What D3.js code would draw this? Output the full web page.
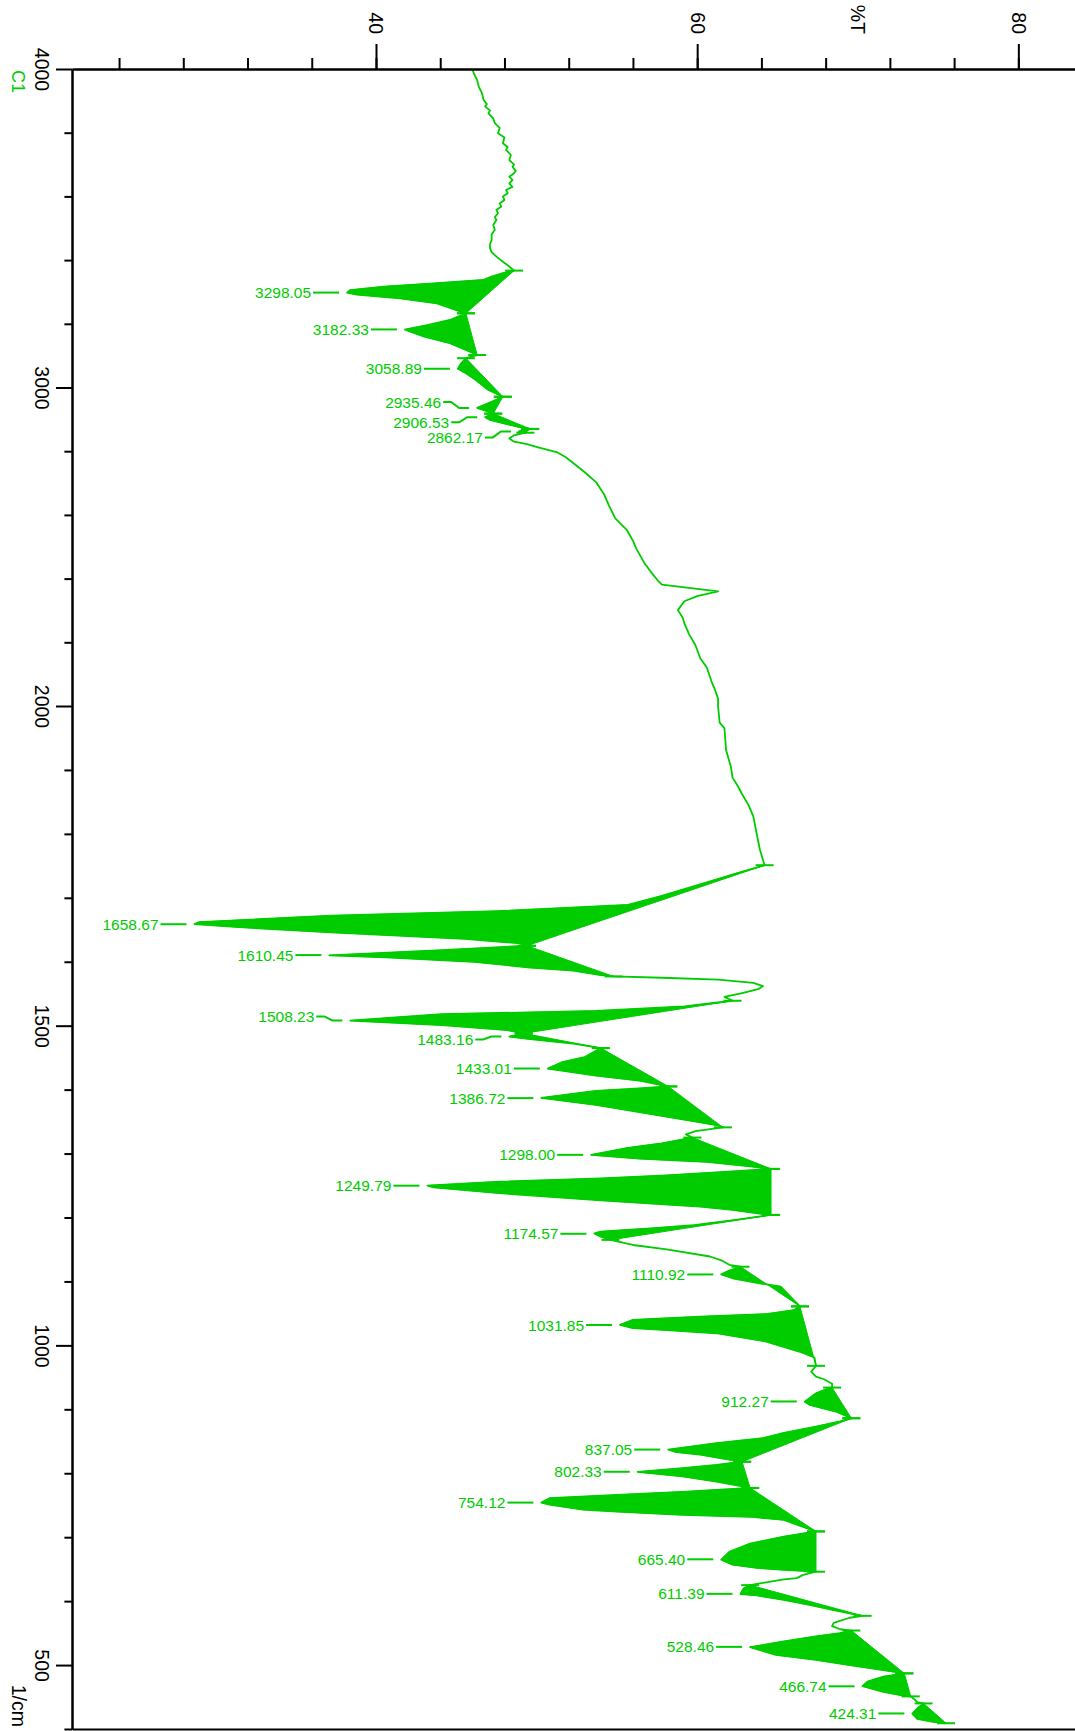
<!DOCTYPE html>
<html>
<head>
<meta charset="utf-8">
<script src="https://cdn.jsdelivr.net/npm/d3@7"></script>
<style>
body { margin: 0; background: #fff; }
svg { display: block; font-family: "Liberation Sans", Arial, sans-serif; }
</style>
</head>
<body>
<script>
// spectrum (1/cm, %T)
var wavenumber = [
  4000, 3985, 3965, 3945, 3924, 3903, 3890, 3882, 3870, 3861, 3845, 3830, 3815, 3798, 3785, 3767,
  3755, 3746, 3730, 3714, 3700, 3693, 3680, 3673, 3662, 3652, 3640, 3630, 3620, 3610, 3600, 3589,
  3578, 3568, 3557, 3547, 3535, 3526, 3510, 3495, 3480, 3463, 3450, 3437, 3425, 3411, 3395, 3380,
  3367, 3359, 3348, 3338, 3327, 3317, 3306, 3298, 3292, 3280, 3264, 3243, 3233, 3212, 3196, 3182,
  3176, 3160, 3139, 3118, 3102, 3092, 3076, 3059, 3045, 3024, 2992, 2971, 2955, 2936, 2926, 2918,
  2907, 2898, 2888, 2877, 2870, 2862, 2858, 2850, 2840, 2830, 2822, 2812, 2796, 2782, 2762, 2734,
  2703, 2665, 2630, 2589, 2554, 2519, 2495, 2450, 2422, 2391, 2381, 2360, 2345, 2329, 2301, 2277,
  2260, 2225, 2190, 2149, 2121, 2076, 2052, 2024, 2000, 1974, 1965, 1931, 1905, 1888, 1876, 1862,
  1845, 1827, 1801, 1776, 1751, 1738, 1724, 1703, 1689, 1679, 1672, 1662, 1659, 1654, 1646, 1636,
  1629, 1625, 1618, 1610, 1607, 1600, 1591, 1586, 1579, 1577, 1575, 1572, 1567, 1562, 1557, 1551,
  1545, 1539, 1530, 1523, 1518, 1508, 1501, 1493, 1488, 1483, 1479, 1472, 1465, 1451, 1443, 1433,
  1422, 1414, 1407, 1405, 1402, 1398, 1387, 1376, 1365, 1353, 1344, 1341, 1335, 1330, 1325, 1316,
  1309, 1298, 1292, 1287, 1280, 1276, 1272, 1266, 1261, 1256, 1250, 1247, 1238, 1227, 1217, 1212,
  1206, 1204, 1196, 1188, 1183, 1178, 1175, 1170, 1165, 1157, 1150, 1139, 1133, 1126, 1123, 1117,
  1111, 1105, 1097, 1092, 1071, 1061, 1055, 1049, 1045, 1040, 1032, 1027, 1024, 1019, 1006, 990,
  981, 968, 959, 951, 947, 940, 934, 930, 925, 912, 907, 896, 886, 881, 873, 863,
  855, 847, 837, 833, 829, 822, 818, 813, 808, 802, 795, 787, 779, 777, 771, 766,
  761, 754, 751, 743, 740, 735, 732, 727, 716, 709, 701, 690, 677, 665, 657, 652,
  649, 646, 641, 636, 634, 629, 625, 620, 616, 611, 609, 602, 594, 586, 581, 577,
  574, 566, 561, 556, 554, 550, 545, 537, 528, 516, 508, 500, 492, 487, 482, 474,
  467, 458, 452, 451, 447, 442, 440, 432, 424, 416, 411, 409
];
var transmittance = [
  46.0, 46.1, 46.3, 46.4, 46.6, 46.7, 46.9, 46.8, 47.1, 47.0, 47.3, 47.4, 47.7, 47.6, 48.0, 47.9,
  48.2, 48.1, 48.4, 48.3, 48.6, 48.5, 48.7, 48.6, 48.3, 48.5, 48.3, 48.5, 48.1, 48.2, 47.9, 48.0,
  47.7, 47.8, 47.5, 47.6, 47.4, 47.5, 47.3, 47.4, 47.2, 47.2, 47.1, 47.1, 47.2, 47.5, 47.9, 48.3,
  48.6, 47.9, 47.2, 46.7, 43.6, 40.5, 38.4, 38.2, 38.8, 41.5, 43.8, 45.0, 45.6, 44.6, 43.2, 41.8,
  42.1, 43.0, 44.6, 45.6, 46.3, 45.6, 45.3, 45.1, 45.6, 46.2, 47.0, 47.9, 47.2, 46.3, 46.9, 47.3,
  46.8, 47.1, 47.9, 48.8, 49.6, 48.9, 49.3, 48.6, 48.3, 48.6, 49.4, 50.1, 51.3, 51.8, 52.3, 53.0,
  53.7, 54.2, 54.5, 54.9, 55.6, 56.0, 56.2, 56.7, 57.1, 57.6, 57.8, 61.3, 60.0, 59.2, 58.8, 59.1,
  59.2, 59.5, 59.9, 60.2, 60.6, 60.9, 61.1, 61.3, 61.3, 61.4, 61.7, 61.8, 62.1, 62.2, 62.5, 62.8,
  63.2, 63.5, 63.7, 63.9, 64.2, 62.4, 60.6, 57.8, 55.7, 47.5, 37.2, 29.0, 28.7, 31.5, 37.2, 45.5,
  48.9, 49.4, 44.1, 37.1, 40.6, 46.1, 49.6, 52.3, 54.0, 54.8, 57.8, 61.3, 63.5, 64.1, 63.8, 62.8,
  61.7, 62.2, 59.2, 53.7, 44.1, 38.4, 44.1, 48.2, 49.2, 48.3, 49.6, 52.3, 54.0, 53.0, 51.6, 50.7,
  53.7, 56.4, 57.8, 58.2, 56.4, 53.7, 50.3, 53.7, 56.4, 59.2, 61.3, 61.6, 59.9, 59.3, 59.7, 57.8,
  55.7, 53.4, 56.4, 60.6, 63.3, 64.6, 62.2, 58.1, 54.0, 47.7, 43.2, 43.6, 47.7, 54.0, 60.2, 62.2,
  63.9, 64.6, 62.3, 59.8, 57.1, 54.0, 53.6, 54.0, 54.6, 56.0, 58.1, 60.8, 61.5, 62.0, 62.7, 62.0,
  61.5, 62.2, 63.9, 65.2, 66.0, 66.4, 66.0, 64.3, 60.2, 56.0, 55.2, 56.0, 58.1, 61.2, 64.3, 66.4,
  67.3, 67.4, 67.1, 67.4, 67.9, 68.4, 68.4, 67.9, 67.4, 66.7, 67.0, 68.7, 69.6, 68.9, 67.4, 65.4,
  64.1, 61.2, 58.2, 58.7, 60.2, 61.8, 62.8, 61.2, 59.1, 56.3, 59.1, 61.2, 62.9, 63.3, 59.1, 55.0,
  50.8, 50.3, 50.8, 52.9, 55.0, 59.1, 63.3, 65.4, 66.6, 67.4, 65.4, 63.3, 62.0, 61.5, 62.2, 63.7,
  65.4, 67.4, 66.6, 66.2, 65.4, 64.2, 63.3, 62.9, 62.8, 62.7, 63.7, 65.4, 67.0, 68.5, 69.5, 70.3,
  69.5, 68.5, 68.4, 68.9, 69.6, 68.9, 67.4, 65.4, 63.3, 64.9, 67.4, 69.5, 71.6, 72.9, 71.6, 70.6,
  70.3, 71.6, 72.9, 73.3, 73.5, 73.7, 74.1, 73.7, 73.4, 73.7, 74.7, 75.5
];

// picked peaks and the baseline ends used for their shading
var peakLabels = ["3298.05", "3182.33", "3058.89", "2935.46", "2906.53", "2862.17", "1658.67", "1610.45",
                  "1508.23", "1483.16", "1433.01", "1386.72", "1298.00", "1249.79", "1174.57", "1110.92",
                  "1031.85", "912.27", "837.05", "802.33", "754.12", "665.40", "611.39", "528.46",
                  "466.74", "424.31"];
var peakFrom = [3367, 3233, 3092, 2971, 2918, 2870, 1751, 1625, 1539, 1488, 1465, 1405, 1325, 1276, 1204, 1123,
                1061, 934, 886, 818, 777, 709, 625, 554, 487, 440];
var peakTo   = [3233, 3102, 2971, 2918, 2870, 2858, 1625, 1577, 1488, 1465, 1405, 1341, 1276, 1204, 1165, 1061,
                968, 886, 818, 777, 709, 646, 577, 487, 451, 409];

var wnMajorTicks = [4000, 3000, 2000, 1500, 1000, 500];
var tMajorTicks = [40, 60, 80];

var green = "#00cc00";

var width = 1075, height = 1731;

var svg = d3.select("body")
            .append("svg")
            .attr("width", width)
            .attr("height", height);

// wavenumber runs down the page, 4000-2000 at half scale
var yScale = d3.scaleLinear()
               .domain([4000, 2000, 400])
               .range([69, 706, 1729]);

var xScale = d3.scaleLinear()
               .domain([21.07, 83.59])
               .range([72, 1076]);

var data = wavenumber.map(function(w, i) { return { wn: w, t: transmittance[i] }; });

function tAt(w) {
  return data.find(function(d) { return d.wn === w; }).t;
}

// shaded peaks: between the trace and the straight baseline
peakLabels.forEach(function(lab, i) {
  var w0 = peakFrom[i], w1 = peakTo[i];
  var t0 = tAt(w0), t1 = tAt(w1);
  var seg = data.filter(function(d) { return d.wn <= w0 && d.wn >= w1; });
  var chord = function(w) { return t0 + (t1 - t0) * (w0 - w) / (w0 - w1); };

  var area = d3.area()
               .y(function(d) { return yScale(d.wn); })
               .x0(function(d) { return xScale(d.t); })
               .x1(function(d) { return xScale(chord(d.wn)); });

  svg.append("path")
     .datum(seg)
     .attr("d", area)
     .attr("fill", green)
     .attr("stroke", green)
     .attr("stroke-width", 1);

  // little marks at the baseline ends
  [[w0, t0], [w1, t1]].forEach(function(p) {
    svg.append("line")
       .attr("x1", xScale(p[1]) - 9)
       .attr("x2", xScale(p[1]) + 9)
       .attr("y1", yScale(p[0]))
       .attr("y2", yScale(p[0]))
       .attr("stroke", green)
       .attr("stroke-width", 2);
  });
});

var line = d3.line()
             .x(function(d) { return xScale(d.t); })
             .y(function(d) { return yScale(d.wn); });

svg.append("path")
   .datum(data)
   .attr("d", line)
   .attr("fill", "none")
   .attr("stroke", green)
   .attr("stroke-width", 1.8)
   .attr("stroke-linejoin", "round");

// peak labels with leader lines; a few are nudged so they don't collide
var labelNudge = { "2935.46": -6, "2906.53": 5, "2862.17": 6, "1508.23": -4, "1483.16": 3 };

peakLabels.forEach(function(lab, i) {
  var w = parseFloat(lab);
  var seg = data.filter(function(d) { return d.wn <= peakFrom[i] && d.wn >= peakTo[i]; });
  var tip = xScale(d3.min(seg, function(d) { return d.t; }));
  var py = yScale(w);
  var ly = py + (labelNudge[lab] || 0);

  svg.append("path")
     .attr("d", d3.line()([[tip - 34, ly], [tip - 26, ly], [tip - 18, py], [tip - 8, py]]))
     .attr("fill", "none")
     .attr("stroke", green)
     .attr("stroke-width", 2);

  svg.append("text")
     .attr("x", tip - 36)
     .attr("y", ly)
     .attr("dy", "0.36em")
     .attr("text-anchor", "end")
     .attr("fill", green)
     .style("font-size", "15.5px")
     .text(lab);
});

// left axis (wavenumber)
var minorWn = d3.range(3800, 2000, -200).concat(d3.range(1900, 399, -100))
                .filter(function(v) { return wnMajorTicks.indexOf(v) < 0; });

svg.append("g")
   .attr("transform", "translate(72,0)")
   .call(d3.axisLeft(yScale).tickValues(minorWn).tickSize(7.6).tickSizeOuter(0).tickFormat(""));

var gLeft = svg.append("g")
   .attr("transform", "translate(72,0)")
   .call(d3.axisLeft(yScale).tickValues(wnMajorTicks).tickSize(16).tickSizeOuter(0)
           .tickFormat(d3.format("d")));

gLeft.selectAll("text")
     .attr("x", 0)
     .attr("dy", null)
     .attr("text-anchor", "middle")
     .attr("transform", "translate(-37,0) rotate(90)");

// top axis (%T)
svg.append("g")
   .attr("transform", "translate(0,69)")
   .call(d3.axisTop(xScale).tickValues(d3.range(24, 84, 4)).tickSize(11).tickSizeOuter(0).tickFormat(""));

var gTop = svg.append("g")
   .attr("transform", "translate(0,69)")
   .call(d3.axisTop(xScale).tickValues(tMajorTicks).tickSize(25).tickSizeOuter(0)
           .tickFormat(d3.format("d")));

gTop.selectAll("text")
    .attr("y", 0)
    .attr("dy", null)
    .attr("text-anchor", "end")
    .attr("transform", "translate(-7,-35) rotate(90)");

// bottom frame line
svg.append("g")
   .attr("transform", "translate(0,1729)")
   .call(d3.axisBottom(xScale).tickValues([]).tickSizeOuter(0));

svg.selectAll(".domain, .tick line")
   .attr("stroke", "#000")
   .attr("stroke-width", 2);

svg.selectAll(".tick text")
   .attr("fill", "#000")
   .style("font-size", "19.5px")
   .style("font-family", "'Liberation Sans', Arial, sans-serif");

// axis titles
svg.append("text")
   .attr("transform", "translate(" + (xScale(70) - 7) + ",34) rotate(90)")
   .attr("text-anchor", "end")
   .style("font-size", "19.5px")
   .text("%T");

svg.append("text")
   .attr("transform", "translate(12,70) rotate(90)")
   .attr("fill", green)
   .style("font-size", "18px")
   .text("C1");

svg.append("text")
   .attr("transform", "translate(12,1727) rotate(90)")
   .attr("text-anchor", "end")
   .style("font-size", "19.5px")
   .text("1/cm");
</script>
</body>
</html>
